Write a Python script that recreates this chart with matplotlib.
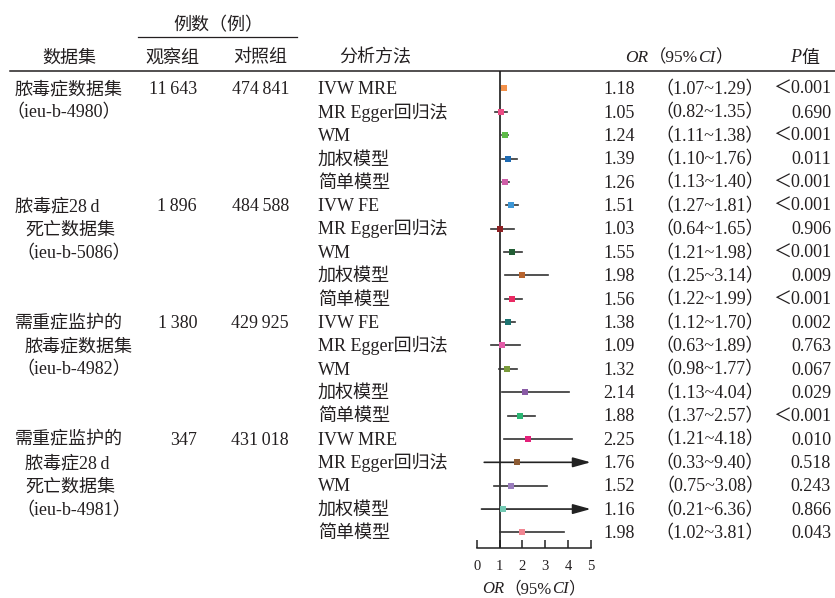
import matplotlib
matplotlib.use("Agg")
import matplotlib.pyplot as plt

plt.rcParams['font.family'] = ['Liberation Serif', 'Noto Sans CJK SC', 'DejaVu Serif']
plt.rcParams['axes.unicode_minus'] = False

# 数据集信息
datasets = [
    ["脓毒症数据集", "（ieu-b-4980）"],
    ["脓毒症28\u2009d", "死亡数据集", "（ieu-b-5086）"],
    ["需重症监护的", "脓毒症数据集", "（ieu-b-4982）"],
    ["需重症监护的", "脓毒症28\u2009d", "死亡数据集", "（ieu-b-4981）"],
]
cases = ["11\u2009643", "1\u2009896", "1\u2009380", "347"]
controls = ["474\u2009841", "484\u2009588", "429\u2009925", "431\u2009018"]
methods = [
    ["IVW MRE", "MR Egger回归法", "WM", "加权模型", "简单模型"],
    ["IVW FE", "MR Egger回归法", "WM", "加权模型", "简单模型"],
    ["IVW FE", "MR Egger回归法", "WM", "加权模型", "简单模型"],
    ["IVW MRE", "MR Egger回归法", "WM", "加权模型", "简单模型"],
]

# OR 及 95%CI
or_vals = [1.18, 1.05, 1.24, 1.39, 1.26,
           1.51, 1.03, 1.55, 1.98, 1.56,
           1.38, 1.09, 1.32, 2.14, 1.88,
           2.25, 1.76, 1.52, 1.16, 1.98]
ci_low = [1.07, 0.82, 1.11, 1.10, 1.13,
          1.27, 0.64, 1.21, 1.25, 1.22,
          1.12, 0.63, 0.98, 1.13, 1.37,
          1.21, 0.33, 0.75, 0.21, 1.02]
ci_high = [1.29, 1.35, 1.38, 1.76, 1.40,
           1.81, 1.65, 1.98, 3.14, 1.99,
           1.70, 1.89, 1.77, 4.04, 2.57,
           4.18, 9.40, 3.08, 6.36, 3.81]
p_vals = ["＜0.001", "0.690", "＜0.001", "0.011", "＜0.001",
          "＜0.001", "0.906", "＜0.001", "0.009", "＜0.001",
          "0.002", "0.763", "0.067", "0.029", "＜0.001",
          "0.010", "0.518", "0.243", "0.866", "0.043"]
colors = ["#F4914A", "#EC4D85", "#5DBA47", "#1F6BB3", "#CF5EA8",
          "#3D97D6", "#8E1F22", "#235E35", "#B8652F", "#EA2A63",
          "#1D7370", "#E35CA8", "#7A9B3C", "#8A5BA6", "#2BB673",
          "#E4207A", "#8C5A32", "#9A7DBD", "#72C9B3", "#F18692"]

TXT = "#231f20"
FS = 13
W, H = 835, 598
ROW0, ROWH = 88.4, 23.37
TOP_RULE, AXIS_Y = 70.5, 548
X0_PX, X5_PX = 476.7, 590.7
XMAX = 5

fig = plt.figure(figsize=(W / 100, H / 100), dpi=100)

# 文字层, 以像素为单位
tax = fig.add_axes([0, 0, 1, 1])
tax.set_xlim(0, W)
tax.set_ylim(H, 0)
tax.axis("off")


def row_base(i):
    return ROW0 + ROWH * i + 5.8


def put(x, y, s, ha="left", size=FS, style="normal"):
    return tax.text(x, y, s, ha=ha, va="baseline", fontsize=size,
                    style=style, color=TXT)


def mixed(x, y, parts, ha="center", size=FS):
    r = fig.canvas.get_renderer()
    objs = [put(0, y, s, size=size, style="italic" if it else "normal")
            for s, it in parts]
    ws = [t.get_window_extent(r).width for t in objs]
    start = x - sum(ws) / 2 if ha == "center" else x - sum(ws)
    for t, w in zip(objs, ws):
        t.set_x(start)
        start += w


# 表头
put(218, 30, "例数（例）", ha="center")
tax.plot([138, 297], [37.3, 37.3], color=TXT, lw=0.9)
put(69, 62.5, "数据集", ha="center")
put(172, 62.5, "观察组", ha="center")
put(260, 62.5, "对照组", ha="center")
put(375, 62.5, "分析方法", ha="center")
mixed(679, 62.5, [("OR", True), ("（95%", False), ("CI", True), ("）", False)],
      size=12.5)
mixed(805, 62.5, [("P", True), ("值", False)])
tax.plot([10, W], [TOP_RULE, TOP_RULE], color=TXT, lw=1.1)

# 表格主体
n_per = len(methods[0])
for d, lines in enumerate(datasets):
    r0 = d * n_per
    for k, s in enumerate(lines):
        if k == 0:
            x = 15
        elif s.startswith("（"):
            x = 6 if d == 0 else 16
        else:
            x = 25
        put(x, row_base(r0 + k), s)
    put(197, row_base(r0), cases[d], ha="right")
    put(289, row_base(r0), controls[d], ha="right")
    for k, m in enumerate(methods[d]):
        put(318, row_base(r0 + k), m)

for i in range(len(or_vals)):
    put(603, row_base(i), f"{or_vals[i]:.2f}")
    put(764, row_base(i), f"（{ci_low[i]:.2f}~{ci_high[i]:.2f}）", ha="right")
    put(831, row_base(i), p_vals[i], ha="right")

# 森林图
fax = fig.add_axes([X0_PX / W, (H - AXIS_Y) / H, (X5_PX - X0_PX) / W,
                    (AXIS_Y - TOP_RULE) / H])
fax.patch.set_visible(False)
fax.set_xlim(0, XMAX)
fax.set_ylim((AXIS_Y - ROW0) / ROWH, (TOP_RULE - ROW0) / ROWH)
for side in ["top", "right", "left"]:
    fax.spines[side].set_visible(False)
fax.spines["bottom"].set_linewidth(1.1)
fax.spines["bottom"].set_color("#222")
fax.set_yticks([])
fax.set_xticks(range(0, XMAX + 1))
fax.tick_params(axis="x", direction="in", length=6, width=1.1, color="#222",
                labelsize=10.5, labelcolor=TXT, pad=9)

fax.axvline(1, color="#1a1a1a", lw=1.2, zorder=2)

for i in range(len(or_vals)):
    if ci_high[i] > XMAX:
        fax.annotate("", xy=(XMAX, i), xytext=(ci_low[i], i),
                     arrowprops=dict(arrowstyle="-|>,head_length=0.72,head_width=0.2",
                                     color="#222", lw=1.2, shrinkA=0, shrinkB=0,
                                     mutation_scale=15),
                     annotation_clip=False, zorder=3)
    else:
        fax.plot([ci_low[i], ci_high[i]], [i, i], color="#333", lw=1.2, zorder=3)
    fax.plot(or_vals[i], i, marker="s", markersize=4.4, color=colors[i],
             markeredgewidth=0, zorder=4, clip_on=False)

mixed((X0_PX + X5_PX) / 2, 593, [("OR", True), ("（95%", False), ("CI", True), ("）", False)],
      size=12)

fig.savefig("out.png", dpi=100)
